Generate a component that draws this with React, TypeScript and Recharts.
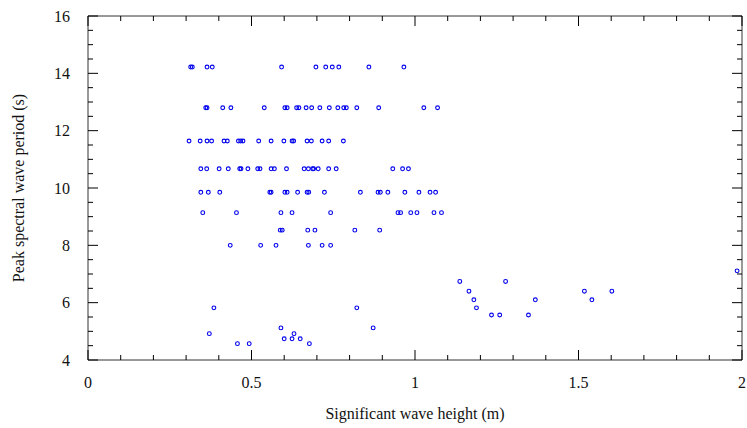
import React from "react";
import { ScatterChart, Scatter, XAxis, YAxis } from "recharts";

// Peak spectral wave periods (s), one per row of points
const periods = [14.22, 12.8, 11.64, 10.67, 9.85, 9.14, 8.53, 8.0, 7.11, 6.74, 6.4, 6.1, 5.82, 5.57, 5.12, 4.92, 4.74, 4.57];

// Significant wave heights (m) observed at each period
const heightsT1422 = [0.314, 0.319, 0.364, 0.38, 0.592, 0.697, 0.727, 0.747, 0.767, 0.859, 0.966];
const heightsT1280 = [0.36, 0.364, 0.412, 0.437, 0.539, 0.602, 0.609, 0.638, 0.645, 0.667, 0.684, 0.709, 0.738, 0.764, 0.782, 0.79, 0.822, 0.889, 1.027, 1.069];
const heightsT1164 = [0.309, 0.343, 0.364, 0.378, 0.416, 0.426, 0.46, 0.467, 0.474, 0.522, 0.56, 0.599, 0.624, 0.629, 0.67, 0.683, 0.716, 0.736, 0.781];
const heightsT1067 = [0.345, 0.363, 0.401, 0.429, 0.464, 0.468, 0.489, 0.519, 0.526, 0.56, 0.57, 0.607, 0.661, 0.674, 0.687, 0.69, 0.704, 0.736, 0.759, 0.932, 0.962, 0.98];
const heightsT985 = [0.345, 0.368, 0.403, 0.556, 0.56, 0.602, 0.609, 0.641, 0.67, 0.675, 0.723, 0.833, 0.887, 0.894, 0.917, 0.969, 1.012, 1.046, 1.063];
const heightsT914 = [0.351, 0.454, 0.59, 0.624, 0.742, 0.948, 0.956, 0.987, 1.006, 1.058, 1.081];
const heightsT853 = [0.588, 0.594, 0.672, 0.694, 0.816, 0.892];
const heightsT800 = [0.435, 0.528, 0.575, 0.674, 0.716, 0.742];
const heightsT711 = [1.985];
const heightsT674 = [1.137, 1.277];
const heightsT640 = [1.165, 1.518, 1.602];
const heightsT610 = [1.18, 1.368, 1.541];
const heightsT582 = [0.385, 0.822, 1.188];
const heightsT557 = [1.234, 1.259, 1.347];
const heightsT512 = [0.59, 0.872];
const heightsT492 = [0.371, 0.63];
const heightsT474 = [0.6, 0.624, 0.649];
const heightsT457 = [0.457, 0.493, 0.677];

const heightRows = [
  heightsT1422, heightsT1280, heightsT1164, heightsT1067, heightsT985, heightsT914,
  heightsT853, heightsT800, heightsT711, heightsT674, heightsT640, heightsT610,
  heightsT582, heightsT557, heightsT512, heightsT492, heightsT474, heightsT457,
];

const xTicks = [0, 0.1, 0.2, 0.3, 0.4, 0.5, 0.6, 0.7, 0.8, 0.9, 1, 1.1, 1.2, 1.3, 1.4, 1.5, 1.6, 1.7, 1.8, 1.9, 2];
const xMajor = [0, 0.5, 1, 1.5, 2];
const yTicks = [4, 4.5, 5, 5.5, 6, 6.5, 7, 7.5, 8, 8.5, 9, 9.5, 10, 10.5, 11, 11.5, 12, 12.5, 13, 13.5, 14, 14.5, 15, 15.5, 16];
const yMajor = [4, 6, 8, 10, 12, 14, 16];

const data = heightRows.flatMap((row, i) => row.map((h) => ({ x: h, y: periods[i] })));

const FONT = '"Liberation Serif", "Times New Roman", serif';
const AXIS_COLOR = "#333";
const MAJOR = 10;
const MINOR = 5;

const isMajor = (list: number[], v: number) => list.some((m) => Math.abs(m - v) < 1e-9);

const BottomTick = (props: any) => {
  const { x, y, payload } = props;
  const major = isMajor(xMajor, payload.value);
  return (
    <g>
      <line x1={x} y1={y} x2={x} y2={y - (major ? MAJOR : MINOR)} stroke="#000" strokeWidth={1} />
      {major && (
        <text x={x} y={y + 28} textAnchor="middle" fontFamily={FONT} fontSize={16} fill="#111">
          {String(payload.value)}
        </text>
      )}
    </g>
  );
};

const TopTick = (props: any) => {
  const { x, y, payload } = props;
  const major = isMajor(xMajor, payload.value);
  return <line x1={x} y1={y} x2={x} y2={y + (major ? MAJOR : MINOR)} stroke="#000" strokeWidth={1} />;
};

const LeftTick = (props: any) => {
  const { x, y, payload } = props;
  const major = isMajor(yMajor, payload.value);
  return (
    <g>
      <line x1={x} y1={y} x2={x + (major ? MAJOR : MINOR)} y2={y} stroke="#000" strokeWidth={1} />
      {major && (
        <text x={x - 18} y={y + 5.5} textAnchor="end" fontFamily={FONT} fontSize={16} fill="#111">
          {String(payload.value)}
        </text>
      )}
    </g>
  );
};

const RightTick = (props: any) => {
  const { x, y, payload } = props;
  const major = isMajor(yMajor, payload.value);
  return <line x1={x} y1={y} x2={x - (major ? MAJOR : MINOR)} y2={y} stroke="#000" strokeWidth={1} />;
};

const Marker = (props: any) => {
  const { cx, cy } = props;
  if (cx == null || cy == null) return <g />;
  return <circle cx={cx} cy={cy} r={1.9} fill="none" stroke="#0000ee" strokeWidth={1.1} />;
};

export default function App() {
  return (
    <div style={{ position: "fixed", left: 0, top: 0, width: 747, height: 428, background: "#fff" }}>
      <ScatterChart width={747} height={428} margin={{ top: 15, right: 4, bottom: 0, left: 0 }}>
        <XAxis
          xAxisId="b"
          type="number"
          dataKey="x"
          domain={[0, 2]}
          allowDataOverflow
          ticks={xTicks}
          interval={0}
          tickSize={0}
          tickMargin={0}
          height={68}
          stroke={AXIS_COLOR}
          tick={<BottomTick />}
          label={{
            value: "Significant wave height (m)",
            position: "insideBottom",
            offset: 9,
            style: { fontFamily: FONT, fontSize: 16, fill: "#111" },
          }}
        />
        <XAxis
          xAxisId="t"
          orientation="top"
          type="number"
          dataKey="x"
          domain={[0, 2]}
          allowDataOverflow
          ticks={xTicks}
          interval={0}
          tickSize={0}
          tickMargin={0}
          height={1}
          stroke={AXIS_COLOR}
          tick={<TopTick />}
        />
        <YAxis
          yAxisId="l"
          type="number"
          dataKey="y"
          domain={[4, 16]}
          allowDataOverflow
          ticks={yTicks}
          interval={0}
          tickSize={0}
          tickMargin={0}
          width={88}
          stroke={AXIS_COLOR}
          tick={<LeftTick />}
          label={{
            value: "Peak spectral wave period (s)",
            angle: -90,
            position: "insideLeft",
            offset: 18,
            style: { fontFamily: FONT, fontSize: 16, fill: "#111", textAnchor: "middle" },
          }}
        />
        <YAxis
          yAxisId="r"
          orientation="right"
          type="number"
          dataKey="y"
          domain={[4, 16]}
          allowDataOverflow
          ticks={yTicks}
          interval={0}
          tickSize={0}
          tickMargin={0}
          width={1}
          stroke={AXIS_COLOR}
          tick={<RightTick />}
        />
        <Scatter xAxisId="b" yAxisId="l" data={data} shape={<Marker />} isAnimationActive={false} />
        <Scatter xAxisId="t" yAxisId="r" data={data} shape={() => <g />} isAnimationActive={false} />
      </ScatterChart>
    </div>
  );
}
